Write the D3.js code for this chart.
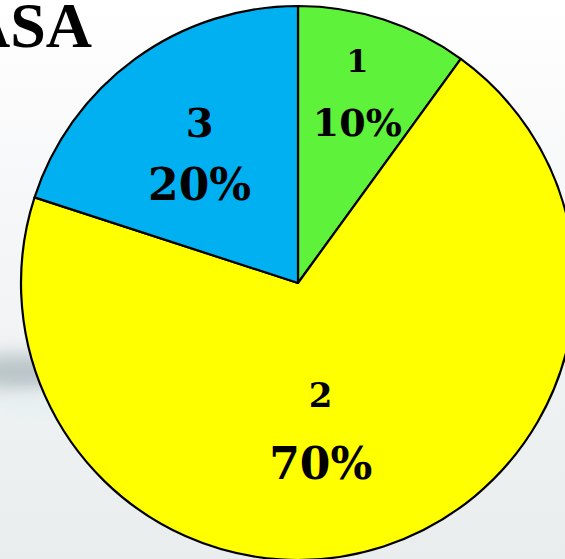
<!DOCTYPE html>
<html>
<head>
<meta charset="utf-8">
<script src="https://cdn.jsdelivr.net/npm/d3@7"></script>
<style>
  html, body { margin: 0; padding: 0; background: #ffffff; }
  svg { display: block; }
</style>
</head>
<body>
<svg id="chart" width="565" height="559"></svg>
<script>
// Slice data, drawn clockwise from twelve o'clock
const categories = ["1", "2", "3"];
const shares = [10, 70, 20];
const sliceColors = ["#5ef23a", "#ffff00", "#00b0f0"];
const titleText = "ASA";

const width = 565, height = 559;
const cx = 298, cy = 283, radius = 277;

const svg = d3.select("#chart");
const defs = svg.append("defs");

// soft backdrop
const bg = defs.append("linearGradient").attr("id", "bg").attr("x1", 0).attr("y1", 0).attr("x2", 0).attr("y2", 1);
bg.append("stop").attr("offset", "0%").attr("stop-color", "#ffffff");
bg.append("stop").attr("offset", "35%").attr("stop-color", "#f6f7f8");
bg.append("stop").attr("offset", "100%").attr("stop-color", "#e9edee");
const blur = defs.append("filter").attr("id", "soft").attr("x", "-50%").attr("y", "-50%").attr("width", "200%").attr("height", "200%");
blur.append("feGaussianBlur").attr("stdDeviation", 9);

svg.append("rect").attr("width", width).attr("height", height).attr("fill", "url(#bg)");
svg.append("ellipse").attr("cx", 20).attr("cy", 372).attr("rx", 60).attr("ry", 18)
  .attr("fill", "#a9b7bb").attr("opacity", 0.75).attr("filter", "url(#soft)");
svg.append("ellipse").attr("cx", 45).attr("cy", 405).attr("rx", 50).attr("ry", 10)
  .attr("fill", "#e4f0f2").attr("opacity", 0.8).attr("filter", "url(#soft)");

// heading, running off the left edge
svg.append("text")
  .attr("x", 92).attr("y", 47)
  .attr("text-anchor", "end")
  .attr("font-family", "'Liberation Serif', 'Times New Roman', serif")
  .attr("font-weight", "bold")
  .attr("font-size", 64)
  .attr("fill", "#000")
  .text(titleText);

const pie = d3.pie().sort(null).value(d => d.value).startAngle(0).endAngle(2 * Math.PI);
const data = categories.map((c, i) => ({ name: c, value: shares[i], color: sliceColors[i] }));
const arcs = pie(data);

const arc = d3.arc().innerRadius(0).outerRadius(radius);
const g = svg.append("g").attr("transform", `translate(${cx},${cy})`);

g.selectAll("path.slice")
  .data(arcs)
  .join("path")
  .attr("class", "slice")
  .attr("d", arc)
  .attr("fill", d => d.data.color)
  .attr("stroke", "#000")
  .attr("stroke-width", 2.2)
  .attr("stroke-linejoin", "round");

// label placement: distance from the centre and angular nudge per slice
const labelRadius = [192, 158, 154];
const labelNudge = [0, 0.17, -0.065];
const nameSize = [32, 34, 40];
const pctSize = [38, 44, 44];
const lineGap = [64, 72, 63];

const fontFamily = "'DejaVu Serif', serif";
arcs.forEach((d, i) => {
  const mid = (d.startAngle + d.endAngle) / 2 + labelNudge[i];
  const x = Math.sin(mid) * labelRadius[i];
  const y = -Math.cos(mid) * labelRadius[i];
  const lg = g.append("g").attr("transform", `translate(${x},${y})`);
  lg.append("text")
    .attr("text-anchor", "middle")
    .attr("y", -lineGap[i] / 2 + 4)
    .attr("font-family", fontFamily)
    .attr("font-weight", "bold")
    .attr("font-size", nameSize[i])
    .attr("fill", "#000")
    .text(d.data.name);
  lg.append("text")
    .attr("text-anchor", "middle")
    .attr("y", lineGap[i] / 2 + 4)
    .attr("font-family", fontFamily)
    .attr("font-weight", "bold")
    .attr("font-size", pctSize[i])
    .attr("fill", "#000")
    .text(d3.format("d")(d.data.value) + "%");
});
</script>
</body>
</html>
